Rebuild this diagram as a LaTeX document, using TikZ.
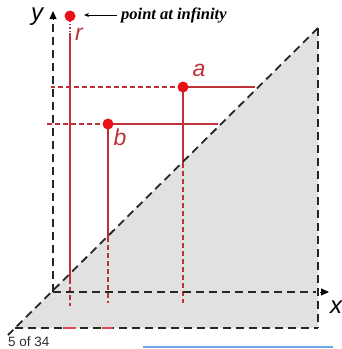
\documentclass[tikz,border=0pt]{standalone}
\usepackage{fontspec}
\setmainfont{Liberation Sans}
\newfontfamily\ptserif{Liberation Serif}
\usetikzlibrary{arrows.meta}
\definecolor{grayfill}{RGB}{225,225,225}
\definecolor{redline}{RGB}{190,50,55}
\definecolor{reddot}{RGB}{232,18,24}
\definecolor{redmark}{RGB}{225,70,90}
\definecolor{bluebar}{RGB}{110,165,230}
\definecolor{pagegray}{RGB}{45,45,45}
\tikzset{
  blackdash/.style={line width=1.8pt, dash pattern=on 8pt off 5pt, black!85},
  redsolid/.style={line width=1.5pt, redline},
  reddash/.style={line width=1.5pt, redline, dash pattern=on 5pt off 3pt},
  dotmark/.style={circle, fill=reddot, inner sep=0pt, minimum size=11pt},
  axislabel/.style={font=\fontsize{24}{24}\selectfont\itshape, inner sep=0pt},
  redlabel/.style={font=\fontsize{23}{23}\selectfont\itshape, text=redline, inner sep=0pt},
  tip/.style={-{Triangle[width=7pt,length=8pt]}, line width=1pt, black}
}
\begin{document}
\begin{tikzpicture}[x=1pt,y=-1pt]
\useasboundingbox (0,0) rectangle (342,349);
% named coordinates
\coordinate (BL) at (15,328);
\coordinate (TR) at (318,28);
\coordinate (BR) at (318,328);
\coordinate (DX) at (8,335);
\coordinate (O) at (53,292);
\coordinate (Ytop) at (53,24);
\coordinate (Ytipbase) at (53,20);
\coordinate (Ytip) at (53,11);
\coordinate (Xend) at (316,292);
\coordinate (Xtipbase) at (320,292);
\coordinate (Xtip) at (329,292);
% gray half-plane
\fill[grayfill] (BL) -- (TR) -- (BR) -- cycle;
% red lines
\coordinate (a) at (183,87);
\coordinate (b) at (108,124);
\coordinate (r) at (70,16);
\coordinate (aR) at (255,87);
\coordinate (aL) at (51,87);
\coordinate (aD) at (183,163);
\coordinate (aE) at (183,303);
\coordinate (bR) at (218,124);
\coordinate (bL) at (47,124);
\coordinate (bD) at (108,237);
\coordinate (bE) at (108,303);
\coordinate (rA) at (70,21);
\coordinate (rB) at (70,33);
\coordinate (rD) at (70,279);
\coordinate (rE) at (70,306);
\draw[redsolid] (a) -- (aR);
\draw[reddash] (a) -- (aL);
\draw[redsolid] (a) -- (aD);
\draw[reddash] (aD) -- (aE);
\draw[redsolid] (b) -- (bR);
\draw[reddash] (b) -- (bL);
\draw[redsolid] (b) -- (bD);
\draw[reddash] (bD) -- (bE);
\draw[line width=1.2pt, redline, dotted] (rA) -- (rB);
\draw[redsolid] (rB) -- (rD);
\draw[reddash] (rD) -- (rE);
% black dashed lines
\draw[blackdash] (TR) -- (DX);
\draw[blackdash] (BL) -- (BR);
\draw[blackdash] (TR) -- (BR);
\draw[blackdash] (O) -- (Ytop);
\draw[blackdash] (O) -- (Xend);
\draw[tip] (Ytipbase) -- (Ytip);
\draw[tip] (Xtipbase) -- (Xtip);
% red marks on bottom edge
\coordinate (m1a) at (63,328); \coordinate (m1b) at (76,328);
\coordinate (m2a) at (102,328); \coordinate (m2b) at (113,328);
\draw[line width=2pt, redmark] (m1a) -- (m1b);
\draw[line width=2pt, redmark] (m2a) -- (m2b);
% dots
\node[dotmark] (adot) at (a) {};
\node[dotmark] (bdot) at (b) {};
\node[dotmark] (rdot) at (r) {};
% labels
\node[axislabel] (ylab) at (37,17) {y};
\node[axislabel] (xlab) at (336,307) {x};
\node[redlabel] (alab) at (199,70) {a};
\node[redlabel] (blab) at (120,137) {b};
\node[redlabel] (rlab) at (79,34) {r};
\node[anchor=west, inner sep=0pt, font=\ptserif\fontsize{16.5}{16.5}\selectfont\bfseries\itshape] (inf) at (121,15) {point at infinity};
\draw[-{Stealth[length=5pt,width=4pt]}, line width=0.8pt] (inf.west) ++(-4,0) coordinate (arrS) -- (84,15) coordinate (arrE);
% footer
\node[anchor=west, inner sep=0pt, text=pagegray, font=\fontsize{13.5}{13.5}\selectfont] (page) at (8,342) {5 of 34};
\coordinate (bl1) at (143,347); \coordinate (bl2) at (333,347);
\draw[line width=1.5pt, bluebar] (bl1) -- (bl2);
\end{tikzpicture}
\end{document}
